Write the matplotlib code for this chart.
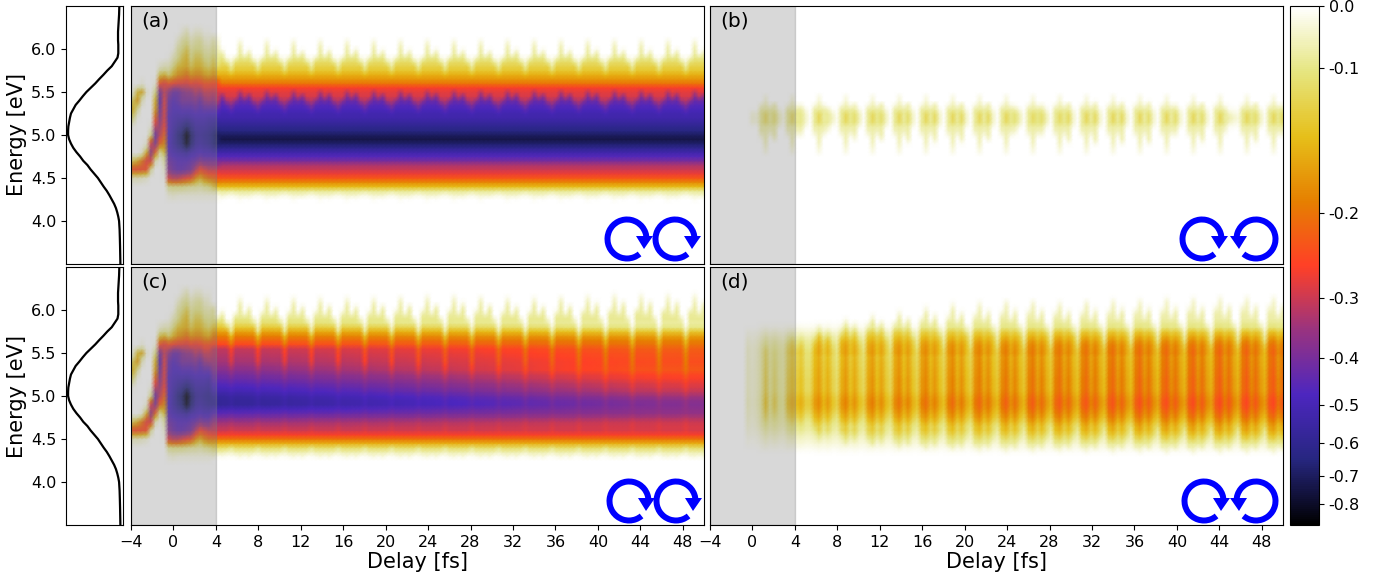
import numpy as np
import matplotlib
matplotlib.use("Agg")
import matplotlib.pyplot as plt
from matplotlib.colors import SymLogNorm
from matplotlib.patches import PathPatch, Polygon
from matplotlib.path import Path
from matplotlib.transforms import Affine2D, IdentityTransform

W, H = 1388, 579

# pump spectrum shown in the side strips
pump_energy = [3.5, 3.6, 3.7, 3.8, 3.9, 4.0, 4.05, 4.1, 4.15, 4.2, 4.25, 4.3, 4.35, 4.4, 4.45, 4.5, 4.55, 4.6, 4.65,
               4.7, 4.75, 4.8, 4.85, 4.9, 4.95, 5.0, 5.05, 5.1, 5.15, 5.2, 5.25, 5.3, 5.35, 5.4, 5.45, 5.5, 5.55, 5.6,
               5.65, 5.7, 5.75, 5.8, 5.85, 5.9, 5.95, 6.0, 6.05, 6.1, 6.2, 6.3, 6.4, 6.5]
pump_value = [0, .003, .006, .01, .015, .025, .04, .06, .085, .12, .165, .21, .26, .32, .375, .43, .50, .57, .63,
              .71, .77, .84, .90, .945, .98, 1.0, 1.0, .995, .98, .965, .945, .90, .855, .785, .72, .65, .565, .48,
              .405, .325, .25, .165, .11, .055, .04, .04, .04, .045, .045, .035, .025, .02]

# grids of the maps: delay columns every 0.42 fs, energy rows every 0.05 eV
delay = -4.22 + 0.42 * np.arange(131)
energy = 4.2 + 0.05 * np.arange(43)
delay_ticks = [-4, 0, 4, 8, 12, 16, 20, 24, 28, 32, 36, 40, 44, 48]
energy_ticks = [4.0, 4.5, 5.0, 5.5, 6.0]
cbar_ticks = [0, -.1, -.2, -.3, -.4, -.5, -.6, -.7, -.8]

# first fs of (a) and (c): one line per delay column, energies 6.3 down to 4.2, values x100
onset_energy = [6.3, 6.2, 6.1, 6.0, 5.9, 5.8, 5.7, 5.6, 5.5, 5.4, 5.3, 5.2, 5.1, 5.0, 4.9, 4.8, 4.7, 4.6, 4.5, 4.4, 4.3, 4.2]
onset = [
    [0, 0, 0, 0, 0, 0, 0, 0, 0, 10, 12, 10, 0, 0, 0, 0, 8, 22, 4, 0, 0, 0],
    [0, 0, 0, 0, 0, 0, 0, 0, 3, 12, 14, 10, 1, 0, 0, 0, 12, 25, 5, 0, 0, 0],
    [0, 0, 0, 0, 0, 0, 0, 0, 13, 16, 8, 1, 0, 0, 0, 0, 15, 25, 5, 0, 0, 0],
    [0, 0, 0, 0, 0, 0, 0, 2, 15, 5, 0, 0, 0, 0, 0, 3, 20, 25, 4, 0, 0, 0],
    [0, 0, 0, 0, 0, 0, 0, 0, 3, 0, 0, 0, 0, 0, 3, 14, 27, 24, 3, 0, 0, 0],
    [0, 0, 0, 0, 0, 0, 0, 0, 0, 0, 0, 0, 2, 10, 28, 36, 27, 8, 0, 0, 0, 0],
    [0, 0, 0, 0, 0, 0, 0, 2, 10, 14, 16, 22, 30, 42, 38, 22, 6, 0, 0, 0, 0, 0],
    [0, 0, 0, 0, 0, 3, 12, 24, 40, 46, 42, 38, 34, 30, 22, 8, 1, 0, 0, 0, 0, 0],
    [0, 0, 0, 0, 0, 5, 14, 27, 30, 28, 28, 28, 26, 22, 18, 13, 7, 3, 1, 0, 0, 0],
    [0, 0, 0, 0, 1, 5, 11, 24, 36, 42, 44, 46, 46, 48, 48, 46, 42, 38, 28, 9, 2, 0],
    [0, 0, 0, 1, 5, 10, 14, 26, 42, 46, 48, 50, 52, 54, 54, 50, 44, 42, 30, 10, 3, 0],
    [0, 0, 3, 7, 9, 13, 17, 27, 42, 44, 48, 52, 56, 62, 60, 52, 46, 44, 30, 10, 2, 0],
    [0, 2, 7, 10, 12, 14, 18, 27, 38, 40, 46, 52, 60, 68, 66, 54, 46, 44, 28, 10, 2, 0],
    [0, 5, 9, 12, 14, 15, 20, 28, 36, 40, 46, 54, 66, 84, 80, 56, 46, 42, 26, 9, 2, 0],
    [0, 1, 5, 8, 10, 12, 17, 26, 36, 40, 46, 52, 60, 68, 66, 52, 44, 40, 24, 8, 2, 0],
    [0, 3, 7, 10, 12, 14, 18, 27, 32, 38, 44, 50, 54, 58, 56, 50, 42, 32, 18, 8, 2, 0],
    [0, 3, 8, 10, 12, 14, 18, 26, 34, 42, 46, 50, 54, 56, 54, 48, 38, 26, 15, 7, 2, 0],
    [0, 1, 4, 7, 10, 12, 16, 24, 30, 36, 44, 50, 54, 58, 56, 50, 40, 28, 18, 9, 2, 0],
    [0, 1, 3, 6, 9, 11, 15, 24, 30, 34, 44, 52, 56, 60, 58, 50, 40, 30, 20, 10, 2, 0],
    [0, 0, 6, 9, 11, 13, 17, 25, 31, 36, 44, 52, 58, 65, 64, 52, 40, 30, 21, 12, 2, 0],
    [0, 0, 3, 6, 9, 11, 15, 24, 29, 32, 44, 53, 60, 70, 68, 53, 40, 30, 23, 14, 2, 0],
]

# (a) energy profiles, from 4.20 eV upward, rest is zero
valley_a = [0, 0, .02, .08, .14, .18, .23, .27, .30, .33, .40, .46, .53, .60, .68, .74, .70, .64, .60, .56,
            .53, .50, .44, .38, .32, .29, .28, .26, .20, .17, .14, .11, .08, .04, .01]
spike_a = [0, .01, .02, .01, 0, 0, 0, 0, 0, 0, 0, 0, 0, 0, 0, 0, 0, 0, 0, 0,
           0, .02, .05, .08, .11, .09, .04, 0, 0, 0, .01, .02, .04, .07, .09, .08, .07, .05, .025]
# height of the fringe at which each energy row starts to fill
start_a = [0, .5, .2, 0, 0, 0, 0, 0, 0, 0, 0, 0, 0, 0, 0, 0, 0, 0, 0, 0,
           0, 0, .1, .15, .25, .4, .55, 0, 0, 0, 0, 0, .05, .12, .25, .4, .55, .7, .8]
# (a) fringe height per delay column
fringe_a = [0] * 19 + [
    .8, .45, .6, .3, 0, .35,
    1.0, .45, .6, .3, .02, .35,
    1.0, .46, .6, .3, 0, .35,
    1.0, .45, .58, .3, 0, .36,
    1.0, .44, .62, .3, 0, .35,
    1.0, .46, .64, .3, 0, .35,
    1.0, .45, .6, .28, 0, .35,
    1.0, .45, .6, .3, .02, .35,
    1.0, .46, .62, .3, 0, .36,
    1.0, .45, .6, .3, 0, .35,
    1.0, .44, .58, .28, 0, .35,
    1.0, .45, .62, .3, 0, .35,
    1.0, .46, .6, .3, 0, .35,
    1.0, .45, .6, .3, .02, .35,
    1.0, .45, .62, .28, 0, .36,
    1.0, .45, .6, .3, 0, .35,
    1.0, .44, .6, .3, 0, .35,
    1.0, .45, .62, .3, 0, .35,
    1.0, .46, .6, .3]

# (c) profiles: valley at early delay, its change until 50 fs, fringe part
valley_c = [0, 0, .01, .05, .10, .15, .20, .26, .29, .31, .34, .39, .44, .50, .56, .56, .54, .50, .47, .44,
            .41, .38, .35, .32, .29, .28, .27, .26, .20, .17, .14, .10, .06, .03, .01]
fade_c = [0, 0, 0, 0, 0, 0, 0, 0, -.01, -.03, -.05, -.07, -.09, -.14, -.20, -.21, -.22, -.21, -.20, -.18,
          -.17, -.16, -.15, -.125, -.10, -.095, -.09, -.09, -.05, -.035, -.03, -.03, -.03, -.03, -.01]
spike_c = [0, 0, .02, .02, .01, 0, 0, 0, .01, .01, .01, .01, .01, .01, .02, .02, .02, .02, .02, .02,
           .02, .03, .03, .04, .05, .05, .05, .05, .05, .05, .05, .06, .07, .08, .09, .085, .08, .07, .055, .035, .015, .004]
start_c = [0, 0, .5, .2, 0, 0, 0, 0, 0, 0, 0, 0, 0, 0, 0, 0, 0, 0, 0, 0,
           0, 0, 0, 0, 0, 0, 0, 0, 0, 0, 0, .04, .1, .2, .3, .42, .55, .68, .8, .9, 1.0, 1.1]
fade_amp_c = [0] * 19 + [
    0, 0, .01, .02, .02, .03,
    .04, .05, .06, .07, .08, .08,
    .09, .10, .11, .12, .13, .13,
    .15, .16, .17, .18, .19, .19,
    .21, .22, .23, .24, .25, .25,
    .27, .28, .29, .30, .31, .31,
    .33, .34, .35, .36, .37, .37,
    .39, .40, .41, .42, .43, .43,
    .45, .46, .47, .48, .49, .49,
    .51, .52, .53, .54, .55, .56,
    .58, .59, .60, .61, .62, .63,
    .65, .66, .67, .68, .69, .70,
    .72, .73, .74, .75, .76, .77,
    .78, .79, .80, .81, .82, .83,
    .84, .85, .86, .87, .88, .89,
    .90, .91, .92, .93, .94, .95,
    .95, .96, .96, .97, .97, .98,
    .98, .99, .99, 1.0, 1.0, 1.0,
    1.0, 1.0, 1.0, 1.0]
fringe_c = [0] * 19 + [
    .8, .45, .6, .3, 0, .55,
    1.0, .55, .75, .4, 0, .6,
    1.0, .55, .72, .4, 0, .6,
    1.0, .56, .75, .4, 0, .6,
    1.0, .55, .78, .42, 0, .6,
    1.0, .55, .75, .4, 0, .6,
    1.0, .55, .78, .4, 0, .62,
    1.05, .56, .8, .42, 0, .64,
    1.1, .58, .8, .42, 0, .64,
    1.1, .58, .85, .42, 0, .62,
    1.05, .56, .8, .4, 0, .6,
    1.0, .55, .75, .4, 0, .6,
    1.0, .55, .75, .4, 0, .6,
    1.05, .56, .78, .4, 0, .64,
    1.1, .58, .85, .42, 0, .66,
    1.15, .6, .9, .45, 0, .68,
    1.15, .6, .9, .45, 0, .68,
    1.15, .6, .9, .45, 0, .68,
    1.15, .6, .9, .45]

# (b) profiles: narrow band and the long thin spikes through it
band_b = [0, 0, 0, 0, 0, 0, 0, 0, 0, 0, 0, 0, 0, 0, 0, 0, 0, .005, .02, .05, .075, .05, .02, .005]
spike_b = [0, 0, 0, 0, 0, 0, 0, 0, 0, 0, 0, 0, .02, .035, .05, .06, .065, .065, .06, .06, .04, .06, .06, .055, .035, .02]
start_b = [0, 0, 0, 0, 0, 0, 0, 0, 0, 0, 0, 0, .75, .6, .45, .3, .2, .1, .05, 0, 0, 0, .05, .2, .5, .75]
band_amp_b = [0,
    0, 0, 0, 0, 0, 0,
    0, 0, 0, .3, .25, .6,
    1.0, .6, .9, .55, .3, .6,
    1.0, .6, .7, .4, .1, .55,
    1.0, .55, .7, .6, .2, .55,
    1.0, .7, .9, .65, .1, .55,
    1.0, .7, .9, .6, .12, .55,
    1.0, .55, .9, .45, .08, .5,
    1.0, .55, .95, .45, .08, .5,
    1.0, .55, .95, .45, .08, .5,
    1.0, .55, .95, .45, .08, .5,
    1.0, .7, .85, .65, .15, .55,
    .95, .8, .9, .7, .15, .55,
    .95, .65, .95, .4, .06, .5,
    1.0, .55, .95, .4, .06, .5,
    1.0, .55, .95, .4, .06, .5,
    1.0, .5, .9, .4, .08, .5,
    1.0, .5, .9, .4, .08, .5,
    1.0, .55, .9, .4, .06, .5,
    1.0, .6, .8, .65, .4, .6,
    1.0, .75, .9, .55, .15, .55,
    1.0, .65, .95, .5]
spike_amp_b = [0,
    0, 0, 0, 0, 0, 0,
    0, 0, 0, .05, .05, .35,
    1.1, .3, .45, .1, 0, .3,
    1.0, .3, .3, .1, 0, .3,
    1.0, .3, .2, .05, 0, .3,
    1.0, .3, .4, .1, 0, .3,
    1.0, .3, .45, .1, 0, .3,
    1.0, .3, .5, .1, 0, .3,
    1.0, .3, .5, .1, 0, .3,
    1.0, .3, .5, .1, 0, .3,
    1.0, .3, .45, .1, 0, .3,
    1.0, .3, .25, .1, 0, .3,
    1.0, .3, .3, .1, 0, .3,
    1.0, .3, .5, .1, 0, .3,
    1.0, .3, .55, .1, 0, .3,
    1.0, .3, .55, .1, 0, .3,
    1.0, .3, .55, .1, 0, .3,
    1.0, .3, .3, .1, 0, .3,
    1.0, .3, .5, .1, 0, .3,
    1.0, .25, .05, 0, 0, .3,
    1.0, .3, .5, .1, 0, .3,
    1.0, .3, .3, .1]

# (d) profiles and how they grow with delay
body_d = [0, 0, 0, .01, .03, .055, .08, .11, .14, .17, .19, .21, .225, .24, .25, .25, .24, .23, .225, .225,
          .225, .22, .22, .215, .215, .21, .21, .20, .18, .15, .11, .07, .03, .01]
spike_d = [0, 0, 0, .02, .03, .04, .04, .03, .02, 0, 0, 0, 0, 0, 0, 0, 0, 0, 0, 0,
           0, 0, 0, 0, 0, 0, .01, .015, .025, .035, .05, .065, .075, .08, .075, .07, .06, .05, .04, .03, .015]
start_d = [0, 0, 0, .8, .5, .3, .2, .1, 0, 0, 0, 0, 0, 0, 0, 0, 0, 0, 0, 0,
           0, 0, 0, 0, 0, 0, 0, 0, 0, 0, .05, .12, .2, .3, .4, .5, .6, .7, .8, .95, 1.05]
body_amp_d = [0,
    0, 0, 0, 0, 0, 0,
    0, 0, .20, .15, .20, .35,
    .55, .40, .50, .40, .35, .55,
    .62, .55, .60, .50, .50, .65,
    .72, .58, .66, .54, .48, .66,
    .75, .60, .69, .56, .50, .69,
    .77, .62, .71, .58, .51, .71,
    .80, .64, .74, .60, .53, .74,
    .82, .66, .75, .62, .54, .75,
    .84, .67, .77, .63, .55, .77,
    .86, .69, .79, .64, .57, .79,
    .88, .70, .81, .66, .58, .81,
    .90, .72, .83, .68, .59, .83,
    .91, .73, .84, .68, .60, .84,
    .93, .74, .86, .70, .61, .86,
    .94, .75, .86, .70, .62, .86,
    .96, .77, .88, .72, .63, .88,
    .97, .78, .89, .73, .64, .89,
    .98, .78, .90, .73, .65, .90,
    .99, .79, .91, .74, .65, .91,
    1.0, .80, .92, .75, .66, .92,
    1.0, .80, .92, .75]
spike_amp_d = [0,
    0, 0, 0, 0, 0, 0,
    0, 0, 0, 0, 0, 0,
    0, 0, 0, 0, 0, .1,
    .15, .05, .10, .03, 0, .10,
    .30, .15, .22, .10, 0, .25,
    .45, .25, .35, .15, 0, .35,
    .55, .30, .42, .18, 0, .40,
    .65, .35, .50, .20, 0, .50,
    .75, .40, .58, .26, 0, .55,
    .85, .45, .64, .30, 0, .60,
    .90, .50, .68, .32, 0, .65,
    .95, .52, .72, .34, 0, .68,
    .95, .52, .72, .34, 0, .65,
    .90, .50, .68, .32, 0, .65,
    .95, .52, .72, .34, 0, .68,
    1.0, .55, .75, .35, 0, .70,
    1.0, .55, .75, .35, 0, .72,
    1.05, .58, .78, .36, 0, .75,
    1.05, .58, .78, .36, 0, .78,
    1.10, .60, .82, .38, 0, .80,
    1.10, .60, .82, .38, 0, .80,
    1.10, .60, .82, .38]


def pad(profile):
    return np.pad(np.array(profile, dtype=float), (0, len(energy) - len(profile)))


def make_map(base, part, amp, spike, start, height, n_onset=0):
    rise = np.clip((np.array(height)[None, :] - pad(start)[:, None]) / 0.25, 0, 1)
    z = pad(base)[:, None] + np.outer(pad(part), amp) + pad(spike)[:, None] * rise
    for j in range(n_onset):
        z[:, j] = np.interp(energy, onset_energy[::-1], np.array(onset[j][::-1]) / 100)
    return -np.clip(z, 0, None)


def px_axes(x0, y0, x1, y1):
    return fig.add_axes([x0 / W, 1 - y1 / H, (x1 - x0) / W, (y1 - y0) / H])


def circ_arrow(cx, cy, mirror=False):
    # all in pixels, y from the top of the picture
    sx = -1 if mirror else 1
    move = Affine2D().scale(sx * 19.5, 19.5).translate(cx, H - cy) + IdentityTransform()
    fig.add_artist(PathPatch(Path.arc(0, 310), fill=False, ec="#0000ff", lw=4.3, transform=move, capstyle="butt"))
    head = [(cx + sx * 9, H - cy + 3), (cx + sx * 26, H - cy + 3), (cx + sx * 17, H - cy - 10)]
    fig.add_artist(Polygon(head, closed=True, fc="#0000ff", ec="none", transform=IdentityTransform()))


fig = plt.figure(figsize=(W / 100, H / 100), dpi=100)
norm = SymLogNorm(linthresh=0.1, linscale=0.115, vmin=-0.885, vmax=0, base=10)
no_amp = np.zeros(131)
no_base = np.zeros(43)

maps = [
    ("(a)", (131, 6, 704, 264), make_map(valley_a, no_base, no_amp, spike_a, start_a, fringe_a, 21), [(627, 239, False), (675, 239, False)]),
    ("(b)", (710, 6, 1283, 264), make_map(no_base, band_b, band_amp_b, spike_b, start_b, spike_amp_b), [(1202, 239, False), (1256, 239, True)]),
    ("(c)", (131, 267, 704, 525), make_map(valley_c, fade_c, fade_amp_c, spike_c, start_c, fringe_c, 19), [(629, 501, False), (676, 501, False)]),
    ("(d)", (710, 267, 1283, 525), make_map(no_base, body_d, body_amp_d, spike_d, start_d, spike_amp_d), [(1204, 501, False), (1256, 501, True)]),
]

for label, box, z, arrows in maps:
    ax = px_axes(*box)
    mesh = ax.pcolormesh(delay, energy, z, shading="gouraud", cmap="CMRmap", norm=norm)
    ax.axvspan(-4, 4, color="gray", alpha=0.3, zorder=2)
    ax.set_xlim(-4, 50)
    ax.set_ylim(3.5, 6.5)
    ax.set_yticks([])
    ax.text(-3, 6.26, label, fontsize=14.5)
    if box[1] > 100:
        ax.set_xticks(delay_ticks)
        ax.tick_params(axis="x", labelsize=11.5)
        ax.set_xlabel("Delay [fs]", fontsize=15, labelpad=2)
    else:
        ax.set_xticks([])
    for cx, cy, mirror in arrows:
        circ_arrow(cx, cy, mirror)

for y0, y1 in [(6, 264), (267, 525)]:
    side = px_axes(66, y0, 123, y1)
    side.plot(pump_value, pump_energy, color="black", lw=1.6)
    side.set_xlim(1.04, -0.05)
    side.set_ylim(3.5, 6.5)
    side.set_xticks([])
    side.set_yticks(energy_ticks)
    side.tick_params(axis="y", labelsize=11.5)
    side.set_ylabel("Energy [eV]", fontsize=15, labelpad=2.5)

cax = px_axes(1290, 6, 1319, 525)
cbar = fig.colorbar(mesh, cax=cax)
cbar.set_ticks(cbar_ticks)
cbar.set_ticklabels(["0.0", "-0.1", "-0.2", "-0.3", "-0.4", "-0.5", "-0.6", "-0.7", "-0.8"])
cax.minorticks_off()
cax.tick_params(labelsize=11.5)

fig.savefig("out.png", dpi=100)
